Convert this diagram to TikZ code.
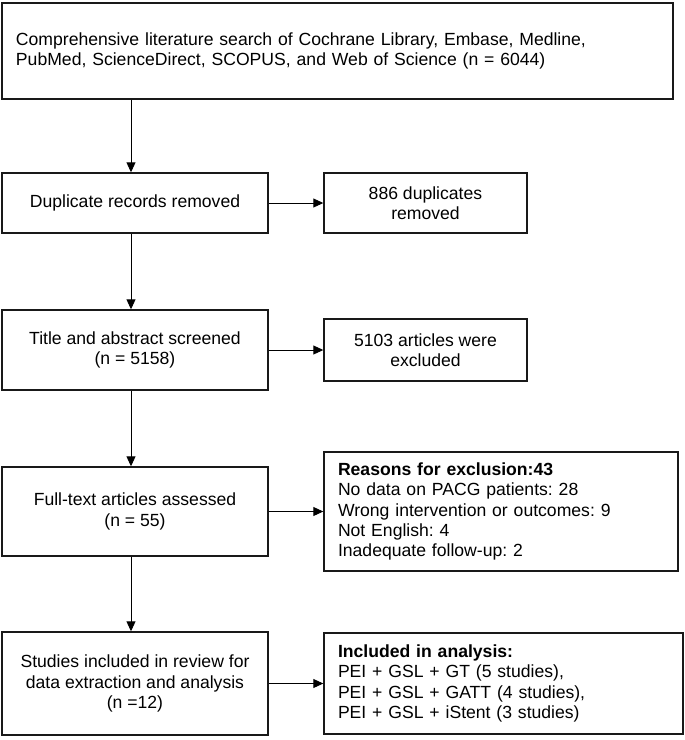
\documentclass[tikz,border=0pt]{standalone}
\usepackage{fontspec}
\setmainfont{Liberation Sans}
\usetikzlibrary{arrows.meta}
\frenchspacing
\tikzset{
  box/.style={draw=black!90, line width=1.4pt, inner sep=0pt, align=center,
    font=\fontsize{17.6}{20.3}\selectfont},
  lbox/.style={box, inner xsep=14pt, align=left},
  arr/.style={-{Triangle[length=10pt,width=9pt]}, line width=0.9pt},
}
\begin{document}
\begin{tikzpicture}[x=1pt,y=-1pt]
\useasboundingbox (0,0) rectangle (685,740);
\node[lbox, minimum width=671, minimum height=96, text width=643] (top) at (337.5,51)
  {Comprehensive literature search of Cochrane Library, Embase, Medline,\\PubMed, ScienceDirect, SCOPUS, and Web of Science (n = 6044)};
\node[box, minimum width=266, minimum height=60] (dup) at (135,203) {Duplicate records removed};
\node[box, minimum width=203, minimum height=60] (dupR) at (425.5,203) {886 duplicates\\removed};
\node[box, minimum width=266, minimum height=80] (title) at (135,350) {Title and abstract screened\\(n = 5158)};
\node[box, minimum width=203, minimum height=62] (excl) at (425.5,350) {5103 articles were\\excluded};
\node[box, minimum width=266, minimum height=89] (full) at (135,511.5) {Full-text articles assessed\\(n = 55)};
\node[lbox, minimum width=354, minimum height=119, text width=326] (reasons) at (501,511.5)
  {\textbf{Reasons for exclusion:43}\\No data on PACG patients: 28\\Wrong intervention or outcomes: 9\\Not English: 4\\Inadequate follow-up: 2};
\node[box, minimum width=266, minimum height=103] (studies) at (135,683.5) {Studies included in review for\\data extraction and analysis\\(n =12)};
\node[lbox, minimum width=359, minimum height=101, text width=331] (incl) at (503.5,683.5)
  {\textbf{Included in analysis:}\\PEI + GSL + GT (5 studies),\\PEI + GSL + GATT (4 studies),\\PEI + GSL + iStent (3 studies)};
\draw[arr] ([xshift=-4pt]dup.north |- top.south) -- ([xshift=-4pt]dup.north);
\draw[arr] ([xshift=-4pt]dup.south) -- ([xshift=-4pt]title.north);
\draw[arr] ([xshift=-4pt]title.south) -- ([xshift=-4pt]full.north);
\draw[arr] ([xshift=-4pt]full.south) -- ([xshift=-4pt]studies.north);
\draw[arr] (dup.east) -- (dupR.west);
\draw[arr] (title.east) -- (excl.west);
\draw[arr] (full.east) -- (reasons.west);
\draw[arr] (studies.east) -- (incl.west);
\end{tikzpicture}
\end{document}
